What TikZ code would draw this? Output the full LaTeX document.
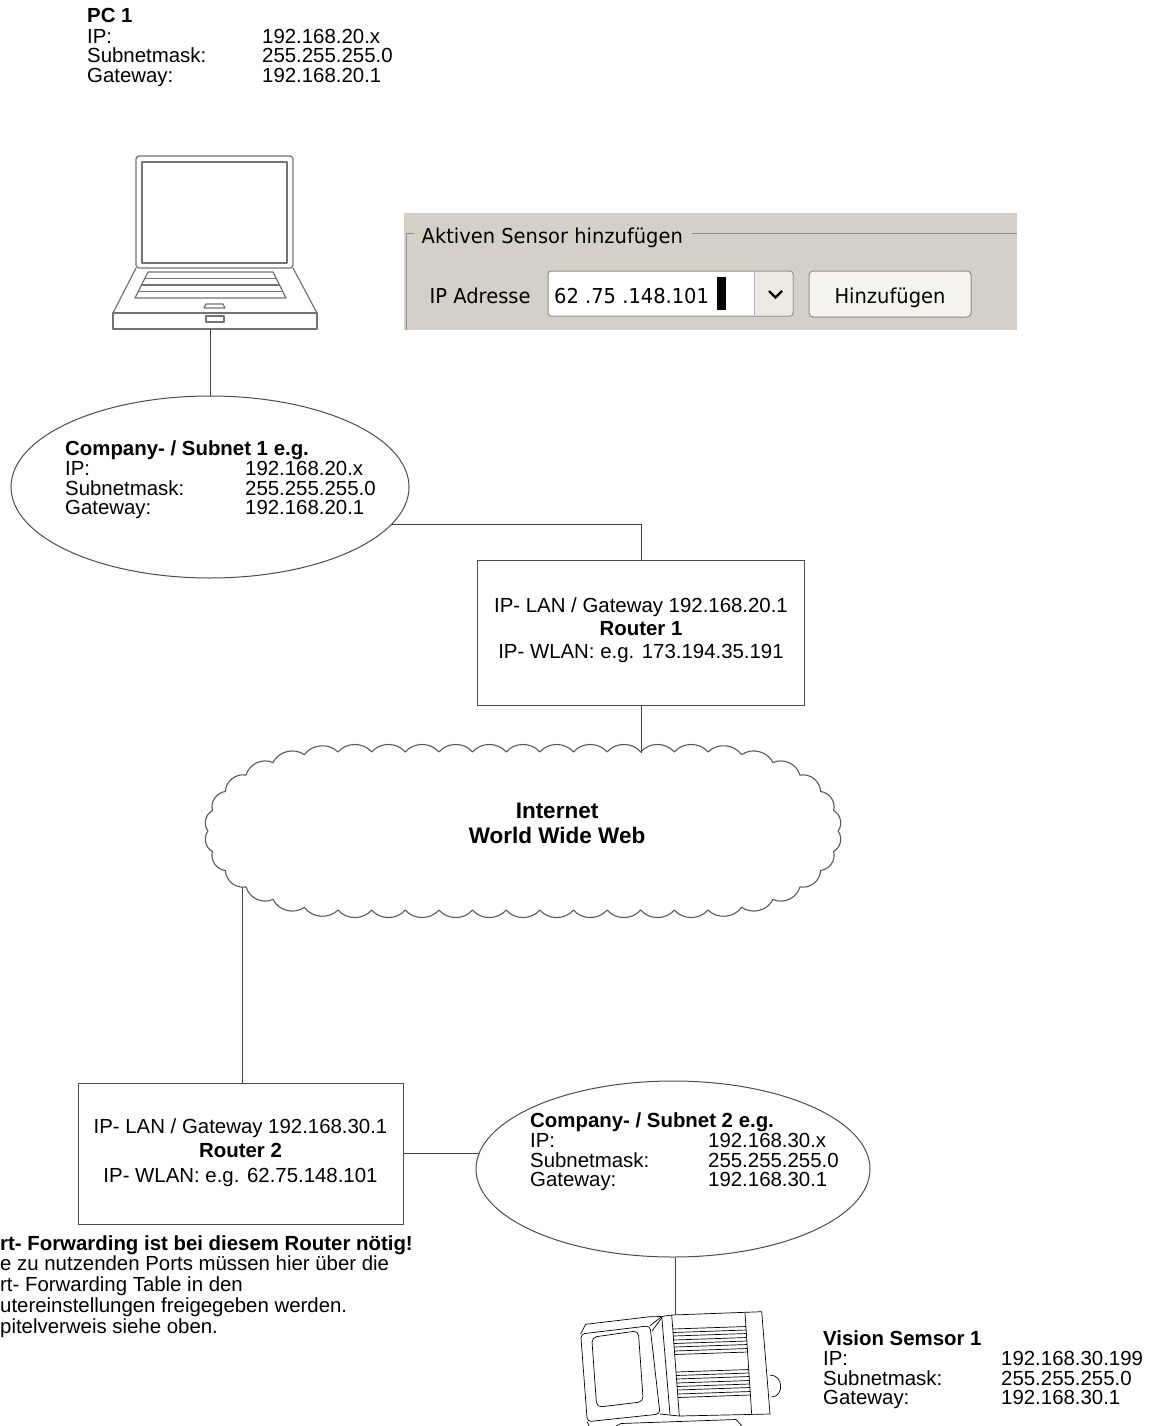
\documentclass[tikz,border=0pt]{standalone}
\usepackage{fontspec}
\setmainfont{Liberation Sans}
\newfontfamily\dlgfont[FakeStretch=0.95]{DejaVu Sans}
\usetikzlibrary{shapes.geometric,backgrounds}

\definecolor{panel}{HTML}{D4D0C8}
\definecolor{framegray}{HTML}{8E8E8E}
\definecolor{btnfill}{HTML}{F4F3EE}
\definecolor{dropfill}{HTML}{ECEAE2}

\tikzset{
  lbl/.style={anchor=base west, inner sep=0pt, font=\fontsize{20.4}{20}\selectfont},
  lblb/.style={lbl, font=\fontsize{20.4}{20}\selectfont\bfseries},
  clbl/.style={anchor=base, inner sep=0pt, font=\fontsize{20.4}{20}\selectfont},
  clblb/.style={clbl, font=\fontsize{20.4}{20}\selectfont\bfseries},
  dlg/.style={anchor=base west, inner sep=0pt, font=\dlgfont\fontsize{20.5}{22}\selectfont},
  wire/.style={draw=black!75, line width=0.9pt},
  netbox/.style={draw=black!70, line width=1pt, fill=white, inner sep=0pt},
  netell/.style={ellipse, draw=black!70, line width=1pt, fill=white, inner sep=0pt},
  cloudln/.style={draw=black!65, line width=1.1pt, line join=round},
  laptopln/.style={draw=black!55, line width=1.2pt, line join=round},
  sensorln/.style={draw=black, line width=0.7pt, line join=round},
}

% address block: name, x of labels, x of values, baseline, title, ip, mask, gateway
\newcommand\addrtable[8]{%
  \node[lblb] (#1t)  at (#2,#4)      {#5};
  \node[lbl]  (#1a)  at (#2,#4+20.5) {IP:};
  \node[lbl]  (#1av) at (#3,#4+20.5) {#6};
  \node[lbl]  (#1b)  at (#2,#4+40)   {Subnetmask:};
  \node[lbl]  (#1bv) at (#3,#4+40)   {#7};
  \node[lbl]  (#1c)  at (#2,#4+59.5) {Gateway:};
  \node[lbl]  (#1cv) at (#3,#4+59.5) {#8};
}

\begin{document}
\begin{tikzpicture}[x=1pt,y=-1pt]
\useasboundingbox (0,0) rectangle (1154,1426);

% ---------- PC 1 ----------
\addrtable{pc}{87}{262}{23}{PC 1}{192.168.20.x}{255.255.255.0}{192.168.20.1}

% laptop
\begin{scope}[laptopln]
  \draw[rounded corners=3] (136,156) rectangle (293,268);
  \draw (142,162) rectangle (287,263);
  \draw (136,268) -- (113,313) -- (317,313) -- (293,268);
  \draw (148,272) -- (273,272) -- (286,298) -- (135,298) -- cycle;
  \draw (144.75,278.5) -- (276.25,278.5);
  \draw (141.5,285) -- (279.5,285);
  \draw (138.25,291.5) -- (282.75,291.5);
  \draw (113,313) rectangle (317,329);
  \draw (206,304) -- (223,304) -- (225,308) -- (204,308) -- cycle;
  \draw (206,316) rectangle (224,322);
\end{scope}
\coordinate (laptop) at (210,329);

% ---------- dialog panel ----------
\fill[panel] (404,213) rectangle (1017,330);
\draw[framegray, line width=1pt] (414,233.5) -- (406,233.5) -- (406,330);
\draw[framegray, line width=1pt] (692,233.5) -- (1017,233.5);
\node[dlg] (dlgtitle) at (421.5,243) {Aktiven Sensor hinzufügen};
\node[dlg] (iplabel) at (429.5,303) {IP Adresse};
\draw[framegray, fill=white, rounded corners=3, line width=1pt] (548,271) rectangle (793,316);
\fill[dropfill] (754.5,272) rectangle (792,315);
\draw[framegray!70, line width=1pt] (754,272) -- (754,315);
\draw[black, line width=2.4pt] (769,291) -- (775.5,297.5) -- (782,291);
\node[dlg] (ipvalue) at (554,303) {62 .75 .148.101};
\fill[black] (716.5,277) rectangle (726,310);
\draw[framegray, fill=btnfill, rounded corners=4, line width=1pt] (809,271) rectangle (971,317);
\node[dlg, anchor=base] (addbtn) at (890,303) {Hinzufügen};

% ---------- Subnet 1 ----------
\node[netell, minimum width=398pt, minimum height=182pt] (e1) at (210,487) {};
\addrtable{sa}{65}{245}{455}{Company- / Subnet 1 e.g.}{192.168.20.x}{255.255.255.0}{192.168.20.1}

% ---------- Router 1 ----------
\node[netbox, minimum width=327pt, minimum height=145pt] (r1) at (641,632.5) {};
\node[clbl]  (r1a) at (641,612) {IP- LAN / Gateway 192.168.20.1};
\node[clblb] (r1b) at (641,635) {Router 1};
\node[clbl]  (r1c) at (641,658) {IP- WLAN: e.g. 173.194.35.191};

% ---------- Internet cloud ----------
\node[inner sep=0pt, minimum width=630pt, minimum height=158pt] (cloud) at (523,831) {};
\draw[cloudln] (338,752)
  \foreach \k in {1,...,11} { to[bend left=50] ({338+370*\k/11},752) }
  \foreach \k in {1,...,12} { to[bend left=50] ({708+130*cos(90-15*\k)},{831-79*sin(90-15*\k)}) }
  \foreach \k in {1,...,11} { to[bend left=50] ({708-370*\k/11},910) }
  \foreach \k in {1,...,12} { to[bend left=50] ({338+130*cos(270-15*\k)},{831-79*sin(270-15*\k)}) };
\node[clblb, font=\fontsize{22.5}{22}\selectfont\bfseries] (inet) at (557,818) {Internet};
\node[clblb, font=\fontsize{22.5}{22}\selectfont\bfseries] (www) at (557,843) {World Wide Web};
\coordinate (cloudtop) at (641,753);
\coordinate (cloudleft) at (242,887);

% ---------- Router 2 ----------
\node[netbox, minimum width=325pt, minimum height=141pt] (r2) at (240.5,1153.5) {};
\node[clbl]  (r2a) at (240.5,1133) {IP- LAN / Gateway 192.168.30.1};
\node[clblb] (r2b) at (240.5,1157) {Router 2};
\node[clbl]  (r2c) at (240.5,1182) {IP- WLAN: e.g. 62.75.148.101};

% ---------- Subnet 2 ----------
\node[netell, minimum width=394pt, minimum height=176pt] (e2) at (673,1169) {};
\addrtable{sb}{530}{708}{1127}{Company- / Subnet 2 e.g.}{192.168.30.x}{255.255.255.0}{192.168.30.1}

% ---------- port forwarding note ----------
\node[lblb] (pf1) at (0,1250)    {rt- Forwarding ist bei diesem Router nötig!};
\node[lbl]  (pf2) at (0,1270.75) {e zu nutzenden Ports müssen hier über die};
\node[lbl]  (pf3) at (0,1291.5)  {rt- Forwarding Table in den};
\node[lbl]  (pf4) at (0,1312.25) {utereinstellungen freigegeben werden.};
\node[lbl]  (pf5) at (0,1333)    {pitelverweis siehe oben.};

% ---------- vision sensor ----------
\begin{scope}[sensorln]
  % rear housing with cooling fins
  \draw (671.7,1315) -- (761.7,1311.7) -- (770,1414) -- (679.3,1416) -- cycle;
  \draw (745,1312.7) -- (751.7,1415);
  \foreach \y in {1329,1332.5,1336,1340,1343.5,1347,1351,1354.5} {
    \draw ({671.7+0.075*(\y-1315)},\y) -- ({745+0.065*(\y-1313)},{\y-2.5});
  }
  \foreach \y in {1372,1375.5,1379,1383,1386.5,1390,1394,1397.5} {
    \draw ({671.7+0.075*(\y-1315)},\y) -- ({745+0.065*(\y-1313)},{\y-2.5});
  }
  \draw (770,1375) .. controls (784,1375) and (784,1397) .. (771.5,1397);
  % front housing and window
  \draw[fill=white, rounded corners=4] (580.7,1334) -- (650,1325.7) -- (660,1414) -- (587.3,1421.7) -- cycle;
  \draw[rounded corners=5] (591.7,1337.3) -- (638.3,1330.7) -- (643.3,1401.7) -- (596.7,1407.3) -- cycle;
  \draw (580.7,1334) -- (585.5,1324.3) -- (650,1316.7) -- (661.7,1316.5) -- (671.7,1315);
  \draw (650,1325.7) -- (661.7,1316.5);
  \draw (652,1331) -- (662,1317.5);
  \draw (661.7,1316.5) -- (670,1414.5);
  \draw (660,1414) -- (679.3,1416);
  \draw (587.3,1421.7) -- (589,1426);
  \draw (616,1426) -- (621,1423.5) -- (736,1419.5) -- (742,1426);
\end{scope}
\coordinate (sensor) at (675,1315);
\addrtable{vs}{823}{1001}{1345}{Vision Semsor 1}{192.168.30.199}{255.255.255.0}{192.168.30.1}

% ---------- connectors ----------
\draw[wire] (laptop) -- (laptop |- e1.north);
\coordinate (j1) at (641,524);
\begin{pgfonlayer}{background}
  \draw[wire] (e1.center |- j1) -- (j1) -- (r1.north);
  \draw[wire] (r2.east) -- (r2.east -| e2.center);
\end{pgfonlayer}
\draw[wire] (r1.south) -- (cloudtop);
\draw[wire] (cloudleft) -- (cloudleft |- r2.north);
\draw[wire] (sensor |- e2.south) -- (sensor);
\end{tikzpicture}
\end{document}
